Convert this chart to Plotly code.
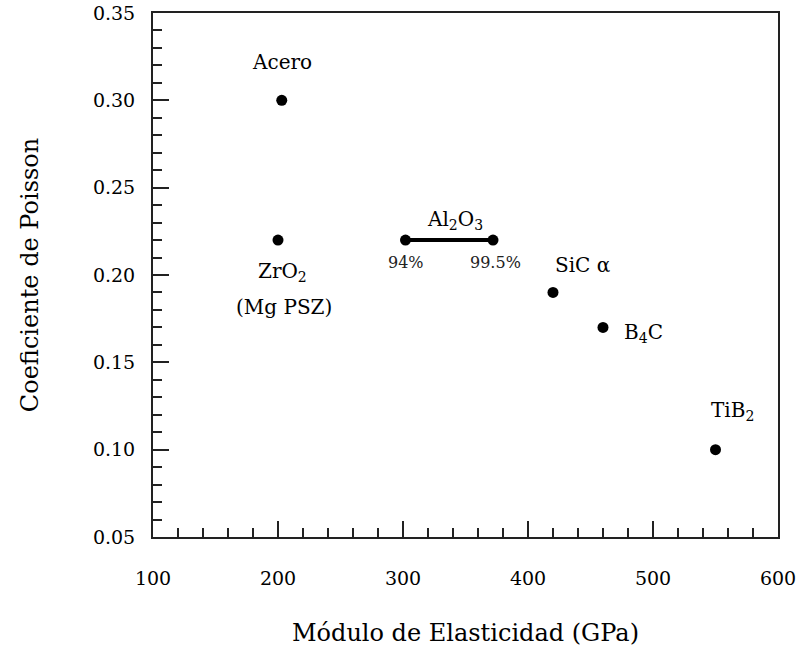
import plotly.graph_objects as go

# Data
materials = ["Acero", "ZrO2", "SiC", "B4C", "TiB2"]
modulus = [203, 200, 420, 460, 550]
poisson = [0.30, 0.22, 0.19, 0.17, 0.10]

al2o3_purity = ["94%", "99.5%"]
al2o3_modulus = [302, 372]
al2o3_poisson = [0.22, 0.22]

x_ticks = [100, 200, 300, 400, 500, 600]
y_ticks = [0.05, 0.10, 0.15, 0.20, 0.25, 0.30, 0.35]
y_tick_labels = ["0.05", "0.10", "0.15", "0.20", "0.25", "0.30", "0.35"]

FONT = "DejaVu Serif"

fig = go.Figure()
fig.add_trace(go.Scatter(
    x=al2o3_modulus, y=al2o3_poisson, mode="lines+markers",
    line=dict(color="black", width=4),
    marker=dict(color="black", size=11),
    showlegend=False, hoverinfo="skip"))
fig.add_trace(go.Scatter(
    x=modulus, y=poisson, mode="markers",
    marker=dict(color="black", size=11),
    showlegend=False, text=materials))

tf = dict(family=FONT, size=20, color="black")
sf = dict(family=FONT, size=16, color="#222")

ann = [
    dict(x=modulus[0], y=poisson[0], text="Acero", yshift=38, font=tf),
    dict(x=modulus[1], y=poisson[1], text="ZrO<sub>2</sub>", yshift=-32, xshift=4, font=tf),
    dict(x=modulus[1], y=poisson[1], text="(Mg PSZ)", yshift=-67, xshift=6, font=tf),
    dict(x=(al2o3_modulus[0] + al2o3_modulus[1]) / 2, y=al2o3_poisson[0],
         text="Al<sub>2</sub>O<sub>3</sub>", yshift=20, xshift=6, font=tf),
    dict(x=al2o3_modulus[0], y=al2o3_poisson[0], text=al2o3_purity[0], yshift=-22, xshift=0, font=sf),
    dict(x=al2o3_modulus[1], y=al2o3_poisson[1], text=al2o3_purity[1], yshift=-22, xshift=2, font=sf),
    dict(x=modulus[2], y=poisson[2], text="SiC α", yshift=27, xshift=29, font=tf),
    dict(x=modulus[3], y=poisson[3], text="B<sub>4</sub>C", xshift=19, yshift=-6,
         xanchor="left", font=tf),
    dict(x=modulus[4], y=poisson[4], text="TiB<sub>2</sub>", xshift=-7, yshift=39,
         xanchor="left", font=tf),
]
for a in ann:
    a.setdefault("xanchor", "center")
    fig.add_annotation(xref="x", yref="y", showarrow=False, **a)

fig.update_layout(
    width=798, height=655,
    margin=dict(l=153, r=20, t=13, b=118),
    paper_bgcolor="white", plot_bgcolor="white",
    font=dict(family=FONT, color="black"),
)
fig.update_xaxes(
    range=[100, 600], tickvals=x_ticks, ticks="inside", ticklen=16, tickwidth=2,
    tickcolor="#222", showline=True, linecolor="#222", linewidth=2, mirror=True,
    showgrid=False, zeroline=False, tickfont=dict(family=FONT, size=19, color="black"),
    ticklabelstandoff=23, automargin=False, ticklabeloverflow="allow",
    minor=dict(ticks="inside", ticklen=9, tickwidth=2, tickcolor="#222", dtick=20, showgrid=False),
    title=dict(text="Módulo de Elasticidad (GPa)", font=dict(family=FONT, size=24, color="black"),
               standoff=36),
)
fig.update_yaxes(
    range=[0.05, 0.35], tickvals=y_ticks, ticktext=y_tick_labels, ticks="inside", ticklen=16,
    tickwidth=2, tickcolor="#222", showline=True, linecolor="#222", linewidth=2, mirror=True,
    showgrid=False, zeroline=False, tickfont=dict(family=FONT, size=19, color="black"),
    ticklabelstandoff=12, automargin=False, ticklabeloverflow="allow",
    minor=dict(ticks="inside", ticklen=9, tickwidth=2, tickcolor="#222", dtick=0.01, showgrid=False),
    title=dict(text="Coeficiente de Poisson", font=dict(family=FONT, size=24, color="black"),
               standoff=47),
)

fig.write_html("out.html", config={"displayModeBar": False},
               post_script="document.body.style.margin='0';")
